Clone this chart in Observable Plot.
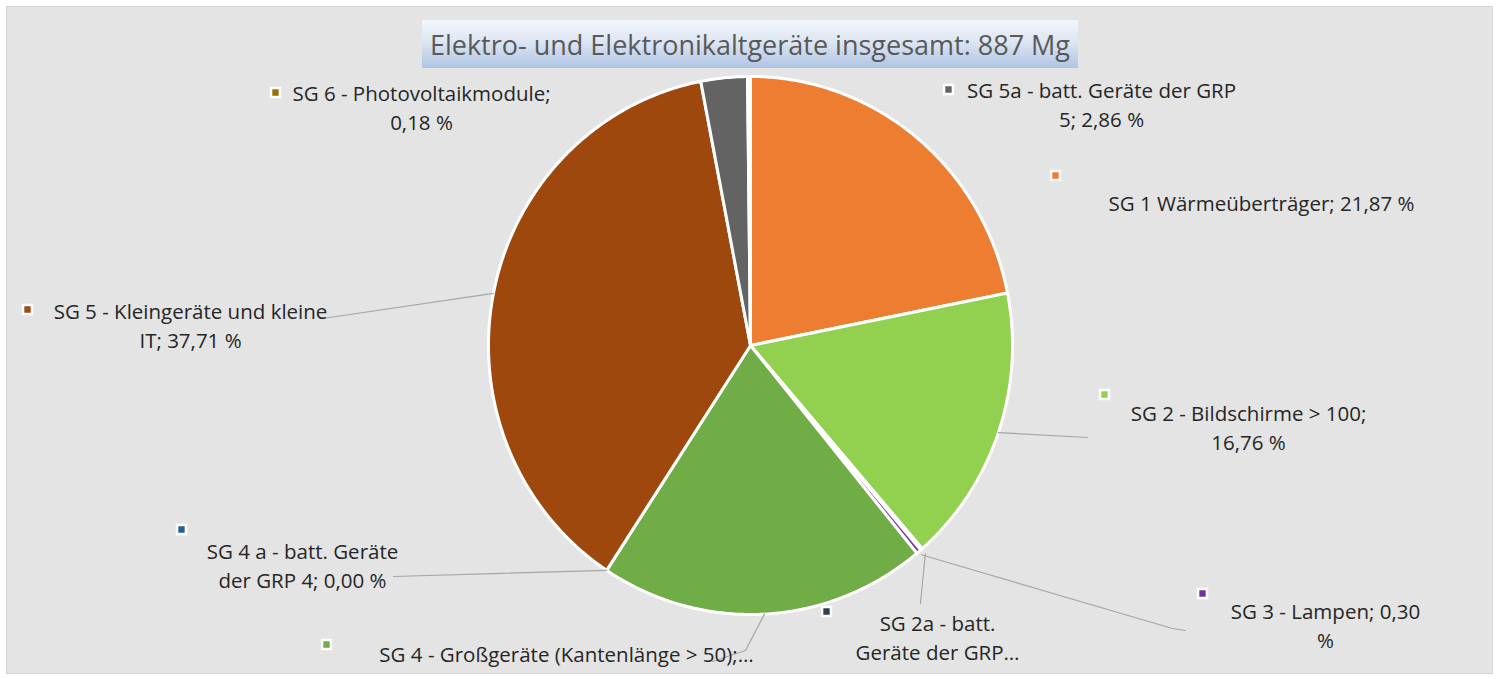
<!DOCTYPE html>
<html><head><meta charset="utf-8">
<script src="https://cdn.jsdelivr.net/npm/d3@7"></script>
<script src="https://cdn.jsdelivr.net/npm/@observablehq/plot@0.6"></script>
<style>
body{margin:0;background:#fff;}
#wrap{position:relative;width:1498px;height:679px;overflow:hidden;}
#panel{position:absolute;left:6px;top:6px;width:1485px;height:666px;background:#E4E4E4;border:1px solid #D4D4D4;}
#title{position:absolute;left:422px;top:20px;width:656px;height:48px;background:linear-gradient(to bottom,#F3F6FB 0%,#DDE6F3 45%,#AFC4E3 100%);font-family:"Open Sans",sans-serif;font-size:27px;color:#595959;display:flex;align-items:center;justify-content:center;white-space:nowrap;}
#chart{position:absolute;left:0;top:0;}
</style></head>
<body>
<div id="wrap"><div id="panel"></div><div id="chart"></div><div id="title">Elektro- und Elektronikaltgeräte insgesamt: 887 Mg</div></div>
<script>
// ---- data ----
const categories = ["SG 1","SG 2","SG 2a","SG 3","SG 4","SG 4a","SG 5","SG 5a","SG 6"];
const shares = [21.87, 16.76, 0.12, 0.30, 20.20, 0.00, 37.71, 2.86, 0.18];
const colors = ["#ED7D31","#92D050","#333F50","#7030A0","#70AD47","#255E91","#9E480E","#636363","#997300"];
const labelTexts = [
  "SG 1 Wärmeüberträger; 21,87 %",
  "SG 2 - Bildschirme > 100;\n16,76 %",
  "SG 2a - batt.\nGeräte der GRP…",
  "SG 3 - Lampen; 0,30\n%",
  "SG 4 - Großgeräte (Kantenlänge > 50);…",
  "SG 4 a - batt. Geräte\nder GRP 4; 0,00 %",
  "SG 5 - Kleingeräte und kleine\nIT; 37,71 %",
  "SG 5a - batt. Geräte der GRP\n5; 2,86 %",
  "SG 6 - Photovoltaikmodule;\n0,18 %"
];
// ---- layout (pixel positions) ----
const pie = {cx: 750, cy: 345, rx: 262, ry: 269};
const labelPos = [[1261,201],[1248,426],[937,636],[1325,624],[566,652],[302,564],[190,324],[1101,103],[421,106]];
const keyPos = [[1055,175],[1104,394],[826,611],[1202,593],[326,644],[181,529],[27,309],[948,89],[275,92]];
const leaderEnds = [null,[[1087,437]],[[920,603]],[[1172,628],[1185,630]],[[745,650],[712,661]],[[393,576]],[[322,318]],null,null];
const leaderOffset = [0,0,6,4,0,0,0,0,0];

// ---- build geometry from data ----
const arcs = d3.pie().sort(null).value(d => d)(shares);
const pt = (a, dr) => [pie.cx + (pie.rx + dr) * Math.sin(a), pie.cy - (pie.ry + dr) * Math.cos(a)];
const slicePts = [];
arcs.forEach((a, i) => {
  if (shares[i] <= 0) return;
  const name = categories[i];
  slicePts.push({name, x: pie.cx, y: pie.cy});
  const n = Math.max(2, Math.ceil((a.endAngle - a.startAngle) / 0.01));
  for (let k = 0; k <= n; k++) {
    const ang = a.startAngle + (a.endAngle - a.startAngle) * k / n;
    const [x, y] = pt(ang, 0);
    slicePts.push({name, x, y});
  }
  slicePts.push({name, x: pie.cx, y: pie.cy});
});
const leaderPts = [];
arcs.forEach((a, i) => {
  if (!leaderEnds[i]) return;
  const mid = (a.startAngle + a.endAngle) / 2;
  const [x0, y0] = pt(mid, leaderOffset[i]);
  leaderPts.push({name: categories[i], x: x0, y: y0});
  leaderEnds[i].forEach(([x, y]) => leaderPts.push({name: categories[i], x, y}));
});
const labels = categories.map((c, i) => ({name: c, text: labelTexts[i], x: labelPos[i][0], y: labelPos[i][1]}));
const keys = categories.map((c, i) => ({name: c, x: keyPos[i][0], y: keyPos[i][1]}));

const chart = Plot.plot({
  width: 1498, height: 679, margin: 0,
  style: {background: "transparent", overflow: "visible"},
  x: {domain: [0, 1498], range: [0, 1498], axis: null},
  y: {domain: [0, 679], range: [0, 679], axis: null},
  color: {domain: categories, range: colors},
  marks: [
    Plot.line(slicePts, {x: "x", y: "y", z: "name", fill: "name", stroke: "white", strokeWidth: 3, strokeLinejoin: "round", curve: "linear"}),
    Plot.line(leaderPts, {x: "x", y: "y", z: "name", stroke: "#A6A6A6", strokeWidth: 1.2}),
    Plot.dot(keys, {x: "x", y: "y", symbol: "square", r: 5, fill: "name", stroke: "white", strokeWidth: 2.5}),
    Plot.text(labels, {x: "x", y: "y", text: "text", textAnchor: "middle", lineAnchor: "middle", lineHeight: 1.37, fontSize: 20.5, fontFamily: "Open Sans", fill: "#262626"})
  ]
});
document.getElementById("chart").appendChild(chart);
</script>
</body></html>
